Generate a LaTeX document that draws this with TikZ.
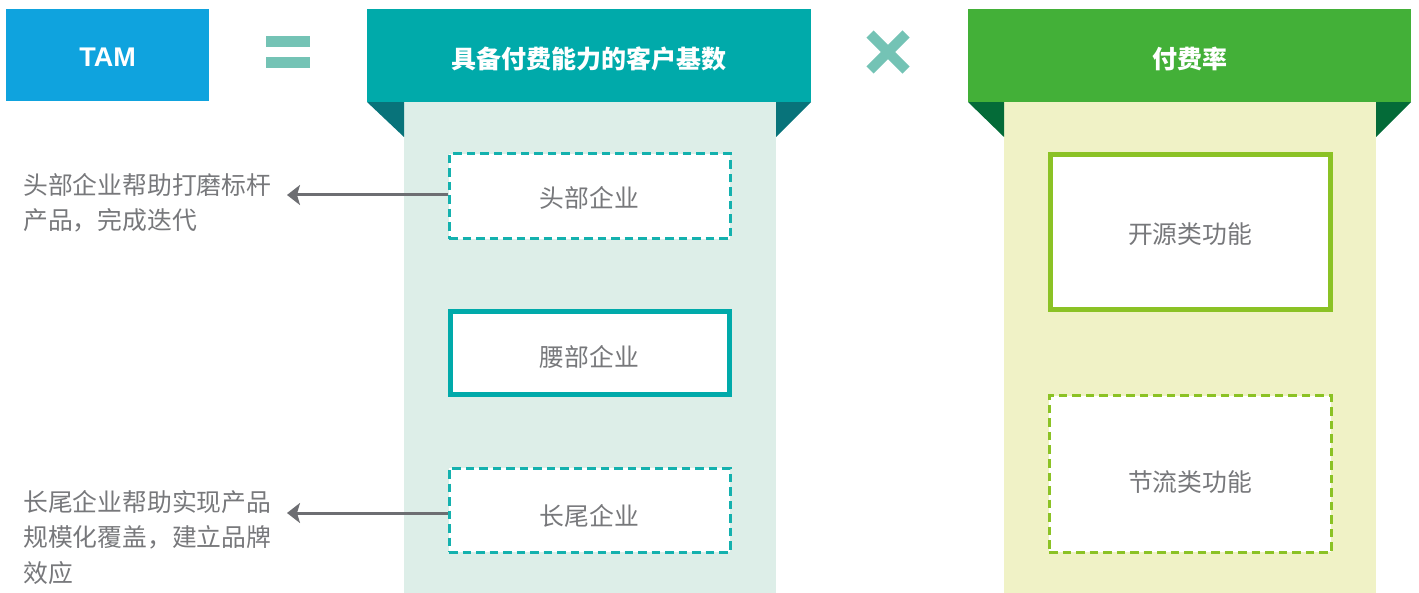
\documentclass[tikz,border=0pt]{standalone}
\usepackage{fontspec}
\setmainfont{Liberation Sans}
\newfontfamily\cjk{Noto Sans CJK SC}
\usetikzlibrary{arrows.meta}
\definecolor{tamblue}{HTML}{0FA3DE}
\definecolor{opcol}{HTML}{74C3B5}
\definecolor{tealhdr}{HTML}{00AAAA}
\definecolor{tealdark}{HTML}{08737A}
\definecolor{tealpanel}{HTML}{DDEEE8}
\definecolor{tealline}{HTML}{14B1AE}
\definecolor{greenhdr}{HTML}{43B038}
\definecolor{greendark}{HTML}{046B38}
\definecolor{greenpanel}{HTML}{F0F2C6}
\definecolor{greenline}{HTML}{8BC225}
\definecolor{txtgray}{HTML}{77787B}
\definecolor{arrgray}{HTML}{6D6E72}
\newcommand{\dn}[2]{\raisebox{-#1pt}[\height][\depth]{#2}}
\begin{document}
\begin{tikzpicture}[x=1pt,y=-1pt,
  hdrbox/.style={inner sep=0pt,text=white,font=\cjk\bfseries\fontsize{25}{28}\selectfont},
  itembox/.style={fill=white,inner sep=0pt,text=txtgray,font=\cjk\fontsize{24.8}{28}\selectfont},
  dashbox/.style={itembox,line width=3pt,dash pattern=on 8.5pt off 5pt},
  solidbox/.style={itembox,line width=5pt},
  note/.style={anchor=north west,inner sep=0pt,align=left,text=txtgray,font=\cjk\fontsize{24.8}{35.5}\selectfont},
  conn/.style={arrgray,line width=3pt,-{Stealth[length=13pt,width=20pt,inset=3pt]}}
]
\useasboundingbox (0,0) rectangle (1419,593);

% TAM
\node[hdrbox,fill=tamblue,minimum width=203pt,minimum height=92pt,font=\bfseries\fontsize{27}{30}\selectfont] (tam) at (107.5,55) {\dn{2}{TAM}};

% equals sign
\fill[opcol] (266,36) rectangle (310,47);
\fill[opcol] (266,57) rectangle (310,68);

% multiplication sign
\draw[opcol,line width=10pt] (870,34) -- (906,70);
\draw[opcol,line width=10pt] (906,34) -- (870,70);

% teal column
\fill[tealpanel] (404,102) rectangle (776,593);
\fill[tealdark] (367,102) -- (404,102) -- (404,137) -- cycle;
\fill[tealdark] (811,102) -- (776,102) -- (776,137) -- cycle;
\node[hdrbox,fill=tealhdr,minimum width=444pt,minimum height=93pt] (h1) at (589,55.5) {\dn{3}{具备付费能力的客户基数}};

% green column
\fill[greenpanel] (1004,102) rectangle (1376,593);
\fill[greendark] (968,102) -- (1004,102) -- (1004,137) -- cycle;
\fill[greendark] (1411,102) -- (1376,102) -- (1376,137) -- cycle;
\node[hdrbox,fill=greenhdr,minimum width=443pt,minimum height=93pt] (h2) at (1189.5,55.5) {\dn{3}{付费率}};

% teal items
\node[dashbox,draw=tealline,minimum width=281pt,minimum height=85pt] (b1) at (589.5,196.5) {\dn{1.5}{头部企业}};
\node[solidbox,draw=tealhdr,minimum width=279pt,minimum height=83pt] (b2) at (589.5,353.5) {\dn{3.5}{腰部企业}};
\node[dashbox,draw=tealline,minimum width=281pt,minimum height=84pt] (b3) at (589.5,510) {\dn{6}{长尾企业}};

% green items
\node[solidbox,draw=greenline,minimum width=280pt,minimum height=155pt] (g1) at (1190,232.5) {\dn{1.5}{开源类功能}};
\node[dashbox,draw=greenline,minimum width=282pt,minimum height=156pt] (g2) at (1190,474) {\dn{8}{节流类功能}};

% notes
\node[note] (n1) at (23,173) {头部企业帮助打磨标杆\\产品，完成迭代};
\node[note] (n2) at (23,490) {长尾企业帮助实现产品\\规模化覆盖，建立品牌\\效应};

\coordinate (e1) at (287,195);
\coordinate (e2) at (287,513);
\draw[conn] (b1.west |- e1) -- (e1);
\draw[conn] (b3.west |- e2) -- (e2);
\end{tikzpicture}
\end{document}
